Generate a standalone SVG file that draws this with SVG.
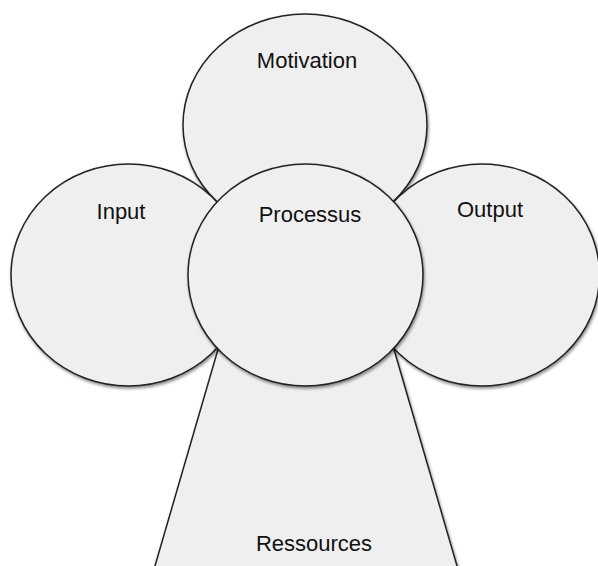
<svg xmlns="http://www.w3.org/2000/svg" width="598" height="566" viewBox="0 0 598 566">
  <defs>
    <filter id="sh" x="-10%" y="-10%" width="125%" height="125%">
      <feDropShadow dx="1" dy="2" stdDeviation="1.8" flood-color="#000" flood-opacity="0.45"/>
    </filter>
  </defs>
  <style>
    .shape { fill: #efefef; stroke: #222; stroke-width: 1.5; filter: url(#sh); }
    .lbl { font-family: "Liberation Sans", Arial, sans-serif; font-size: 22px; fill: #111; text-anchor: middle; }
  </style>
  <rect width="598" height="566" fill="#fff"/>
  <g id="ressources">
    <polygon class="shape" points="219,346 393,346 458.2,570 153.8,570"/>
    <text class="lbl" x="314" y="551">Ressources</text>
  </g>
  <g id="motivation">
    <ellipse class="shape" cx="305" cy="125" rx="122" ry="111"/>
    <text class="lbl" x="307" y="68">Motivation</text>
  </g>
  <g id="input">
    <ellipse class="shape" cx="128.5" cy="275" rx="117.5" ry="111"/>
    <text class="lbl" x="121" y="219">Input</text>
  </g>
  <g id="output">
    <ellipse class="shape" cx="482" cy="275" rx="117.5" ry="111"/>
    <text class="lbl" x="490" y="217">Output</text>
  </g>
  <g id="processus">
    <ellipse class="shape" cx="305.5" cy="275" rx="117.5" ry="111"/>
    <text class="lbl" x="310" y="222">Processus</text>
  </g>
  <g id="connectors"></g>
</svg>
